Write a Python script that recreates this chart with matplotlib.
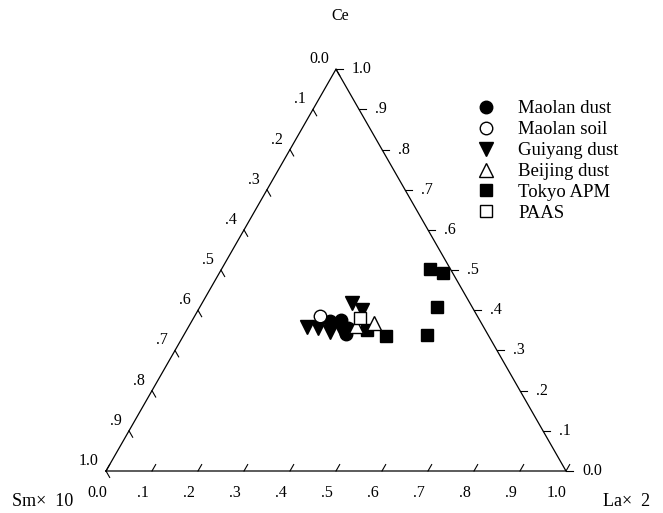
import numpy as np
import matplotlib.pyplot as plt
from matplotlib.lines import Line2D

plt.rcParams['font.family'] = ['Liberation Serif', 'DejaVu Serif']

# ternary fractions (La×2, Ce, Sm×10)
maolan_dust_la = [0.300, 0.323, 0.348, 0.351]
maolan_dust_ce = [0.373, 0.376, 0.356, 0.341]

maolan_soil_la = [0.272]
maolan_soil_ce = [0.386]

guiyang_la = [0.258, 0.283, 0.314, 0.335, 0.326, 0.356]
guiyang_ce = [0.358, 0.356, 0.346, 0.351, 0.418, 0.401]

beijing_la = [0.363, 0.399]
beijing_ce = [0.361, 0.368]

tokyo_la = [0.453, 0.486, 0.516, 0.529, 0.441, 0.392]
tokyo_ce = [0.503, 0.493, 0.408, 0.339, 0.336, 0.351]

paas_la = [0.362]
paas_ce = [0.381]

tick_vals = np.round(np.arange(0, 1.01, 0.1), 1)
tick_labels = ['0.0', '.1', '.2', '.3', '.4', '.5', '.6', '.7', '.8', '.9', '1.0']

H = np.sqrt(3) / 2


def to_xy(la, ce):
    la = np.asarray(la)
    ce = np.asarray(ce)
    return la + ce / 2, ce * H


fig = plt.figure(figsize=(6.63, 5.13), dpi=100)
ax = fig.add_axes([0, 0, 1, 1])
ax.set_xlim(-106 / 460, 557 / 460)
ax.set_ylim(-42 / 464, 471 / 464)
ax.axis('off')

# triangle frame
ax.plot([0, 1, 0.5, 0], [0, 0, H, 0], color='black', lw=0.9, zorder=1)

L = 0.016
for t, lab in zip(tick_vals, tick_labels):
    # bottom axis (La×2)
    ax.plot([t, t + 0.5 * L], [0, H * L], color='black', lw=0.8)
    ax.annotate(lab, (t, 0), xytext=(-9, -22), textcoords='offset pixels',
                ha='center', va='center', fontsize=11.5)
    # left axis (Sm×10): 0 at top, 1 at bottom-left
    lx, ly = (1 - t) / 2, (1 - t) * H
    ax.plot([lx, lx + 0.5 * L], [ly, ly - H * L], color='black', lw=0.8)
    ax.annotate(lab, (lx, ly), xytext=(-7, 10), textcoords='offset pixels',
                ha='right', va='center', fontsize=11.5)
    # right axis (Ce): 0 at bottom-right, 1 at top
    rx, ry = 1 - t / 2, t * H
    ax.plot([rx, rx + L], [ry, ry], color='black', lw=0.8)
    ax.annotate(lab, (rx, ry), xytext=(16, 0), textcoords='offset pixels',
                ha='left', va='center', fontsize=11.5)

# corner titles
fig.text(340 / 663, 1 - 16 / 513, 'Ce', ha='center', va='center', fontsize=11.5)
fig.text(12 / 663, 1 - 502 / 513, 'Sm×  10', ha='left', va='center', fontsize=13)
fig.text(603 / 663, 1 - 501 / 513, 'La×  2', ha='left', va='center', fontsize=13)

# data
x, y = to_xy(tokyo_la, tokyo_ce)
ax.plot(x, y, 's', ms=8.5, mfc='black', mec='black', zorder=3)
x, y = to_xy(guiyang_la, guiyang_ce)
ax.plot(x, y, 'v', ms=10, mfc='black', mec='black', zorder=3)
x, y = to_xy(maolan_dust_la, maolan_dust_ce)
ax.plot(x, y, 'o', ms=9, mfc='black', mec='black', zorder=3)
x, y = to_xy(maolan_soil_la, maolan_soil_ce)
ax.plot(x, y, 'o', ms=9, mfc='white', mec='black', mew=1, zorder=4)
x, y = to_xy(beijing_la, beijing_ce)
ax.plot(x, y, '^', ms=10, mfc='white', mec='black', mew=1, zorder=4)
x, y = to_xy(paas_la, paas_ce)
ax.plot(x, y, 's', ms=8.5, mfc='white', mec='black', mew=1, zorder=5)

handles = [
    Line2D([], [], ls='none', marker='o', ms=9, mfc='black', mec='black'),
    Line2D([], [], ls='none', marker='o', ms=9, mfc='white', mec='black'),
    Line2D([], [], ls='none', marker='v', ms=10, mfc='black', mec='black'),
    Line2D([], [], ls='none', marker='^', ms=10, mfc='white', mec='black'),
    Line2D([], [], ls='none', marker='s', ms=8.5, mfc='black', mec='black'),
    Line2D([], [], ls='none', marker='s', ms=8.5, mfc='white', mec='black'),
]
labels = ['Maolan dust', 'Maolan soil', 'Guiyang dust', 'Beijing dust', 'Tokyo APM', 'PAAS']
fig.legend(handles, labels, loc='upper left', bbox_to_anchor=(465 / 663, 1 - 91 / 513),
           frameon=False, fontsize=13.5, handlelength=1.2, handletextpad=1.15,
           labelspacing=0.2, borderpad=0)

fig.savefig('out.png', dpi=100)
